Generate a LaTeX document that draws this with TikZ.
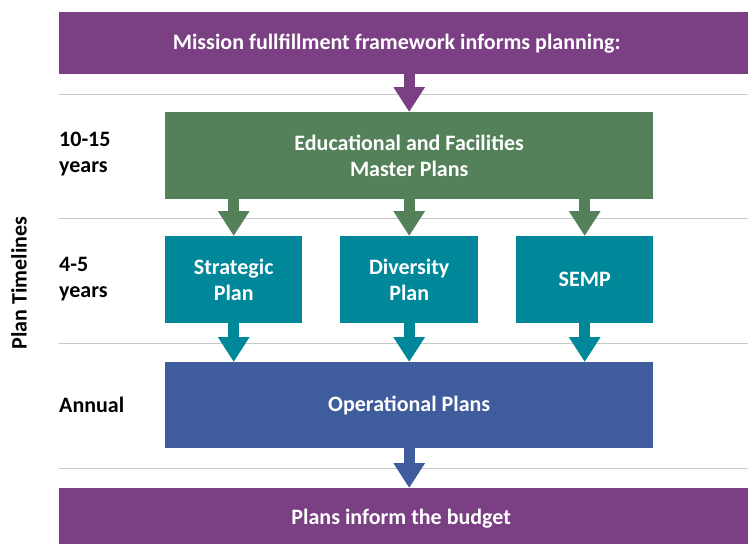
\documentclass[tikz,border=0pt]{standalone}
\usepackage{fontspec}
\setmainfont{Carlito}
\usetikzlibrary{arrows.meta}

\definecolor{missionpurple}{HTML}{7B3F84}
\definecolor{mastergreen}{HTML}{54815A}
\definecolor{planteal}{HTML}{00879A}
\definecolor{opblue}{HTML}{3F5C9D}
\definecolor{rulegray}{HTML}{C8C8C8}

\tikzset{
  planbox/.style={fill=#1, text=white, font=\fontsize{22}{26}\selectfont\bfseries,
    align=center, inner sep=0pt, anchor=north west},
  blockarrow/.style={draw=#1, line width=11pt, -{Triangle[width=30pt,length=25pt]}},
  timeline/.style={draw=rulegray, line width=1pt},
  yearlabel/.style={font=\fontsize{22}{26}\selectfont\bfseries, align=left, anchor=west, inner sep=0pt}
}

\begin{document}
\begin{tikzpicture}[x=1pt,y=-1pt]
    \useasboundingbox (0,0) rectangle (748,544);
    % rows of the timeline
    \foreach \y in {94,218,343,468}
        \draw[timeline] (59,\y) -- (748,\y);

    \node[planbox=missionpurple, minimum width=689pt, minimum height=62pt] (mission) at (59,12) {Mission fullfillment framework informs planning:\hspace*{14pt}};
    \node[planbox=mastergreen, minimum width=488pt, minimum height=87pt] (master) at (165,112) {Educational and Facilities\\Master Plans};
    \node[planbox=planteal, minimum width=137pt, minimum height=87pt] (strategic) at (165,236) {Strategic\\Plan};
    \node[planbox=planteal, minimum width=138pt, minimum height=87pt] (diversity) at (340,236) {Diversity\\Plan};
    \node[planbox=planteal, minimum width=137pt, minimum height=87pt] (semp) at (516,236) {SEMP};
    \node[planbox=opblue, minimum width=488pt, minimum height=86pt] (operational) at (165,362) {Operational Plans};
    \node[planbox=missionpurple, minimum width=689pt, minimum height=60pt] (budget) at (59,488) {Plans inform the budget\hspace*{5pt}};

    % time spans
    \node[yearlabel] (longterm) at (59,154) {10-15\\years};
    \node[yearlabel] (midterm) at (59,279) {4-5\\years};
    \node[yearlabel] (annual) at (59,405) {Annual};
    \node[font=\fontsize{22}{26}\selectfont\bfseries, rotate=90] (timelines) at (19,283) {Plan Timelines};

    % block arrows
    \draw[blockarrow=missionpurple] (mission.south -| master.north) -- (master.north);
    \foreach \p in {strategic,diversity,semp} {
        \draw[blockarrow=mastergreen] (master.south -| \p.north) -- (\p.north);
        \draw[blockarrow=planteal] (\p.south) -- (\p.south |- operational.north);
    }
    \draw[blockarrow=opblue] (operational.south) -- (operational.south |- budget.north);
\end{tikzpicture}
\end{document}
